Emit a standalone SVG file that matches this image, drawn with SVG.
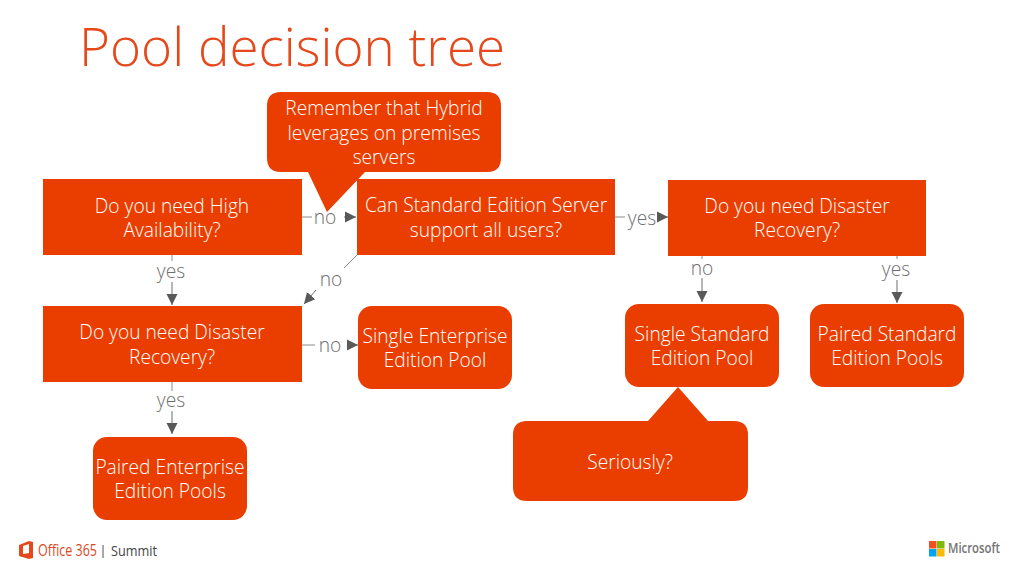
<svg xmlns="http://www.w3.org/2000/svg" width="1024" height="576" viewBox="0 0 1024 576">
<defs>
<marker id="arrow" markerUnits="userSpaceOnUse" markerWidth="12" markerHeight="12" refX="11" refY="6" orient="auto"><path d="M0 0.500L11 6L0 11.500Z" fill="#595959"/></marker>
</defs>
<style>
text{font-family:"Open Sans","Noto Sans","Liberation Sans",sans-serif;font-weight:300}
.box{fill:#EA3E00}
.t{fill:#fff;font-size:19.2px;text-anchor:middle}
.l{fill:#6e6e6e;font-size:19.2px;text-anchor:middle}
.c{fill:none;stroke:#8a8a8a;stroke-width:1}
.a{fill:none;stroke:#6e6e6e;stroke-width:1;marker-end:url(#arrow)}
</style>
<rect width="1024" height="576" fill="#fff"/>
<text x="79" y="66" font-size="53" fill="#E5481B" id="title">Pool decision tree</text>
<g id="connectors">
<path class="c" d="M302 217H312"/><path class="a" d="M344 217H356"/>
<path class="c" d="M615 217H625"/><path class="a" d="M658 217H668"/>
<path class="c" d="M172 255V261"/><path class="a" d="M172 282V305"/>
<path class="c" d="M357 255L344 268"/><path class="a" d="M316 290L304 304"/>
<path class="c" d="M302 345H315"/><path class="a" d="M347 345H358"/>
<path class="c" d="M172 382V391"/><path class="a" d="M172 411V434"/>
<path class="c" d="M702 256V259"/><path class="a" d="M702 278V302"/>
<path class="c" d="M897 256V259"/><path class="a" d="M897 280V303"/>
<text class="l" x="325" y="224">no</text>
<text class="l" x="642" y="225">yes</text>
<text class="l" x="171" y="278">yes</text>
<text class="l" x="331" y="286">no</text>
<text class="l" x="330" y="352">no</text>
<text class="l" x="171" y="407">yes</text>
<text class="l" x="702" y="275">no</text>
<text class="l" x="896" y="276">yes</text>
</g>
<g id="n-ha"><rect class="box" x="43" y="179" width="259" height="76"/><text class="t" x="172" y="213">Do you need High</text><text class="t" x="172" y="237">Availability?</text></g>
<g id="n-standard"><rect class="box" x="357" y="179" width="258" height="76"/><text class="t" x="486" y="212">Can Standard Edition Server</text><text class="t" x="486" y="237">support all users?</text></g>
<g id="n-dr1"><rect class="box" x="668" y="180" width="258" height="76"/><text class="t" x="797" y="213">Do you need Disaster</text><text class="t" x="797" y="237">Recovery?</text></g>
<g id="n-dr2"><rect class="box" x="43" y="306" width="259" height="76"/><text class="t" x="172" y="339">Do you need Disaster</text><text class="t" x="172" y="364">Recovery?</text></g>
<g id="n-single-ent"><rect class="box" x="358" y="306" width="154" height="83" rx="14"/><text class="t" x="435" y="343">Single Enterprise</text><text class="t" x="435" y="367">Edition Pool</text></g>
<g id="n-single-std"><rect class="box" x="625" y="304" width="154" height="83" rx="14"/><text class="t" x="702" y="341">Single Standard</text><text class="t" x="702" y="365">Edition Pool</text></g>
<g id="n-paired-std"><rect class="box" x="810" y="304" width="154" height="83" rx="14"/><text class="t" x="887" y="341">Paired Standard</text><text class="t" x="887" y="365">Edition Pools</text></g>
<g id="n-paired-ent"><rect class="box" x="93" y="437" width="154" height="83" rx="14"/><text class="t" x="170" y="474">Paired Enterprise</text><text class="t" x="170" y="498">Edition Pools</text></g>
<g id="callout-hybrid"><path class="box" d="M281 92H487Q501 92 501 106V158Q501 172 487 172H365L327 212L308 172H281Q267 172 267 158V106Q267 92 281 92Z"/><text class="t" x="384" y="115">Remember that Hybrid</text><text class="t" x="384" y="140">leverages on premises</text><text class="t" x="384" y="164">servers</text></g>
<g id="callout-seriously"><path class="box" d="M527 421H648L678 387L708 421H734Q748 421 748 435V487Q748 501 734 501H527Q513 501 513 487V435Q513 421 527 421Z"/><text class="t" x="630" y="469">Seriously?</text></g>
<g id="logo-office">
<path d="M19 545L29 541L33 542V558L29 559L19 556ZM29 544L23 546V554L29 553Z" fill="#E5481B"/>
<text x="38" y="556" style="font-size:16px;font-weight:400" fill="#D9481F" textLength="59" lengthAdjust="spacingAndGlyphs">Office 365</text>
<path d="M103 545V558" stroke="#555" stroke-width="1"/>
<text x="111" y="556" style="font-size:14px;font-weight:400" fill="#444" textLength="46" lengthAdjust="spacingAndGlyphs">Summit</text>
</g>
<g id="logo-microsoft">
<rect x="929" y="541" width="7.500" height="7.500" fill="#F25022"/><rect x="937" y="541" width="7.500" height="7.500" fill="#7FBA00"/>
<rect x="929" y="549" width="7.500" height="7.500" fill="#00A4EF"/><rect x="937" y="549" width="7.500" height="7.500" fill="#FFB900"/>
<text x="948" y="553" style="font-size:14px;font-weight:600" fill="#737373" textLength="52" lengthAdjust="spacingAndGlyphs">Microsoft</text>
</g>
</svg>
